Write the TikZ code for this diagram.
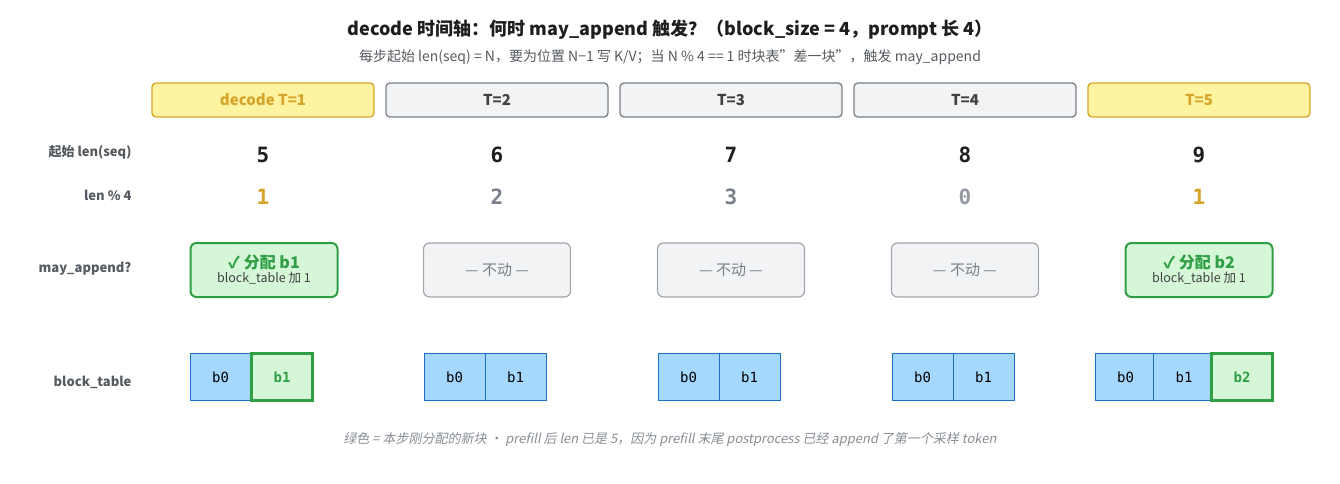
\documentclass[tikz,border=0pt]{standalone}
\usepackage{fontspec}
\setmainfont{Noto Sans CJK SC}
\newfontfamily\monof{DejaVu Sans Mono}
\newfontfamily\slfont[FakeSlant=0.2]{Noto Sans CJK SC}
\definecolor{yfill}{HTML}{FEF3A0}\definecolor{ydraw}{HTML}{D4A52A}
\definecolor{gfill}{HTML}{F1F3F5}\definecolor{gdraw}{HTML}{7A8089}
\definecolor{grfill}{HTML}{D5F7D8}\definecolor{grdraw}{HTML}{2F9E44}
\definecolor{bfill}{HTML}{A5D8FF}\definecolor{bdraw}{HTML}{1C6FC2}
\definecolor{txt}{HTML}{1E1E1E}\definecolor{mut}{HTML}{555A60}
\tikzset{x=1pt,y=-1pt,
 hdr/.style={rounded corners=4pt,minimum width=222pt,minimum height=34pt,line width=1.3pt,font=\bfseries\fontsize{15}{17}\selectfont},
 hy/.style={hdr,fill=yfill,draw=ydraw,text=ydraw},
 hg/.style={hdr,fill=gfill,draw=gdraw,text=txt!85},
 lab/.style={anchor=east,font=\fontsize{13}{15}\selectfont\bfseries,text=mut},
 num/.style={font=\monof\bfseries\fontsize{21}{23}\selectfont},
 ma/.style={rounded corners=6pt,minimum width=147pt,minimum height=54pt,line width=1.2pt,align=center},
 mg/.style={ma,fill=grfill,draw=grdraw,line width=2pt},
 mn/.style={ma,fill=gfill,draw=gdraw!70,text=gdraw,font=\fontsize{15}{17}\selectfont},
 cell/.style={minimum width=61pt,minimum height=47pt,fill=bfill,draw=bdraw,font=\monof\fontsize{14}{16}\selectfont,inner sep=0},
 gcell/.style={cell,fill=grfill,draw=grdraw,line width=2.4pt,text=grdraw,font=\monof\bfseries\fontsize{14}{16}\selectfont}}
\begin{document}
\begin{tikzpicture}
\useasboundingbox (0,0) rectangle (1340,484);
\node[font=\bfseries\fontsize{18}{21}\selectfont,text=txt] (title) at (670,30) {decode 时间轴：何时 may\_append 触发？（block\_size = 4，prompt 长 4）};
\node[font=\fontsize{14}{16}\selectfont,text=mut] (sub) at (670,57) {每步起始 len(seq) = N，要为位置 N−1 写 K/V；当 N \% 4 == 1 时块表"差一块"，触发 may\_append};
\node[lab] (l1) at (135,152) {起始 len(seq)};
\node[lab] (l2) at (135,195) {len \% 4};
\node[lab] (l3) at (135,269) {may\_append?};
\node[lab] (l4) at (135,382) {block\_table};
\node[hy] (h1) at (263,100) {decode T=1};
\node[hg] (h2) at (497,100) {T=2};
\node[hg] (h3) at (731,100) {T=3};
\node[hg] (h4) at (965,100) {T=4};
\node[hy] (h5) at (1199,100) {T=5};
\foreach \x/\n/\m/\c [count=\i] in {263/5/1/ydraw,497/6/2/gdraw,731/7/3/gdraw,965/8/0/gdraw!80,1199/9/1/ydraw}{
 \node[num,text=txt] (n\i) at (\x,155) {\n};
 \node[num,text=\c] (m\i) at (\x,197) {\m};}
\node[mg] (a1) at (264,270) {\textcolor{grdraw}{\bfseries\fontsize{16}{18}\selectfont ✓ 分配 b1}\\[2pt]{\fontsize{12.5}{14}\selectfont\color{txt!85} block\_table 加 1}};
\node[mn] (a2) at (497,270) {— 不动 —};
\node[mn] (a3) at (731,270) {— 不动 —};
\node[mn] (a4) at (965,270) {— 不动 —};
\node[mg] (a5) at (1199,270) {\textcolor{grdraw}{\bfseries\fontsize{16}{18}\selectfont ✓ 分配 b2}\\[2pt]{\fontsize{12.5}{14}\selectfont\color{txt!85} block\_table 加 1}};
\node[cell] (c10) at (220.5,377) {b0};
\node[gcell] (c11) at (282,377) {b1};
\node[cell] (c20) at (454.5,377) {b0};
\node[cell] (c21) at (515.5,377) {b1};
\node[cell] (c30) at (688.5,377) {b0};
\node[cell] (c31) at (749.5,377) {b1};
\node[cell] (c40) at (922.5,377) {b0};
\node[cell] (c41) at (983.5,377) {b1};
\node[cell] (c50) at (1125.5,377) {b0};
\node[cell] (c51) at (1184,377) {b1};
\node[gcell] (c52) at (1242,377) {b2};
\node[font=\slfont\fontsize{13}{15}\selectfont,text=gdraw!90] (foot) at (670,439) {绿色 = 本步刚分配的新块 · prefill 后 len 已是 5，因为 prefill 末尾 postprocess 已经 append 了第一个采样 token};
\end{tikzpicture}
\end{document}
